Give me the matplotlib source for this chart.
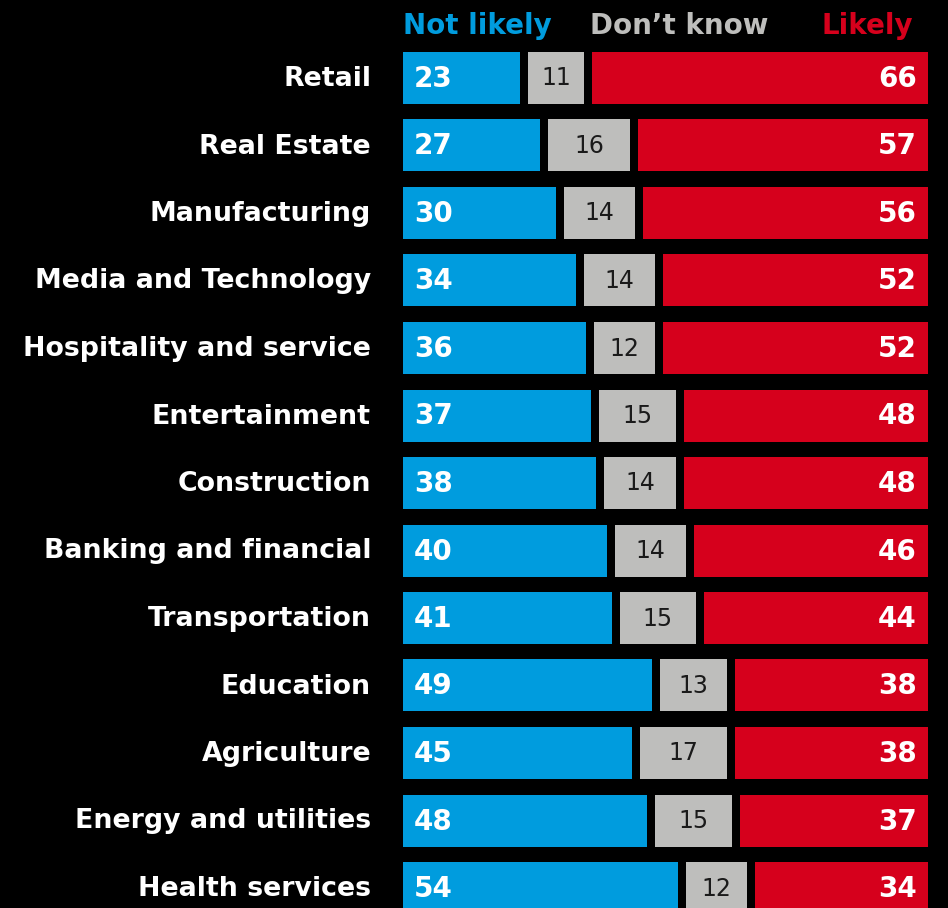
import matplotlib
matplotlib.use("Agg")
import matplotlib.pyplot as plt

sectors = ["Retail", "Real Estate", "Manufacturing", "Media and Technology",
           "Hospitality and service", "Entertainment", "Construction",
           "Banking and financial", "Transportation", "Education",
           "Agriculture", "Energy and utilities", "Health services"]
not_likely = [23, 27, 30, 34, 36, 37, 38, 40, 41, 49, 45, 48, 54]
dont_know = [11, 16, 14, 14, 12, 15, 14, 14, 15, 13, 17, 15, 12]
likely = [66, 57, 56, 52, 52, 48, 48, 46, 44, 38, 38, 37, 34]

BLUE = "#009cde"
GREY = "#bebebc"
RED = "#d6001c"
FONT = "DejaVu Sans"

W, H = 948, 908
fig = plt.figure(figsize=(W / 100, H / 100), dpi=100, facecolor="black")
x0, x1 = 403, 928
ax = fig.add_axes([x0 / W, 0, (x1 - x0) / W, 1])
ax.set_facecolor("black")

gap = 800 / 509          # 8 px spacing between segments
total = 100 + 2 * gap
row_h = 67.5
top = 78                 # centre of the first row, px from top

ax.set_xlim(0, total)
ax.set_ylim((H - top) / row_h, -top / row_h)
ax.axis("off")

bh = 52 / row_h
ty = 2 / row_h           # lift labels a touch so they sit centred
for i, name in enumerate(sectors):
    a, b, c = not_likely[i], dont_know[i], likely[i]
    ax.barh(i, a, left=0, height=bh, color=BLUE)
    ax.barh(i, b, left=a + gap, height=bh, color=GREY)
    ax.barh(i, c, left=a + b + 2 * gap, height=bh, color=RED)
    ax.text(2.2, i - ty, str(a), color="white", fontsize=20,
            fontweight="bold", ha="left", va="center_baseline", family=FONT)
    ax.text(a + gap + b / 2, i - ty, str(b), color="#1a1a1a", fontsize=17,
            ha="center", va="center_baseline", family=FONT)
    ax.text(total - 2.2, i - ty, str(c), color="white", fontsize=20,
            fontweight="bold", ha="right", va="center_baseline", family=FONT)
    fig.text(371 / W, 1 - (top - 2 + i * row_h) / H, name, color="white",
             fontsize=19.3, fontweight="bold", ha="right",
             va="center_baseline", family=FONT)

# column headers
hy = 1 - 23 / H
fig.text(403 / W, hy, "Not likely", color=BLUE, fontsize=20,
         fontweight="bold", ha="left", va="center_baseline", family=FONT)
fig.text(679 / W, hy, "Don\u2019t know", color=GREY, fontsize=20,
         fontweight="bold", ha="center", va="center_baseline", family=FONT)
fig.text(913 / W, hy, "Likely", color=RED, fontsize=20,
         fontweight="bold", ha="right", va="center_baseline", family=FONT)

fig.savefig("out.png", dpi=100, facecolor="black")
